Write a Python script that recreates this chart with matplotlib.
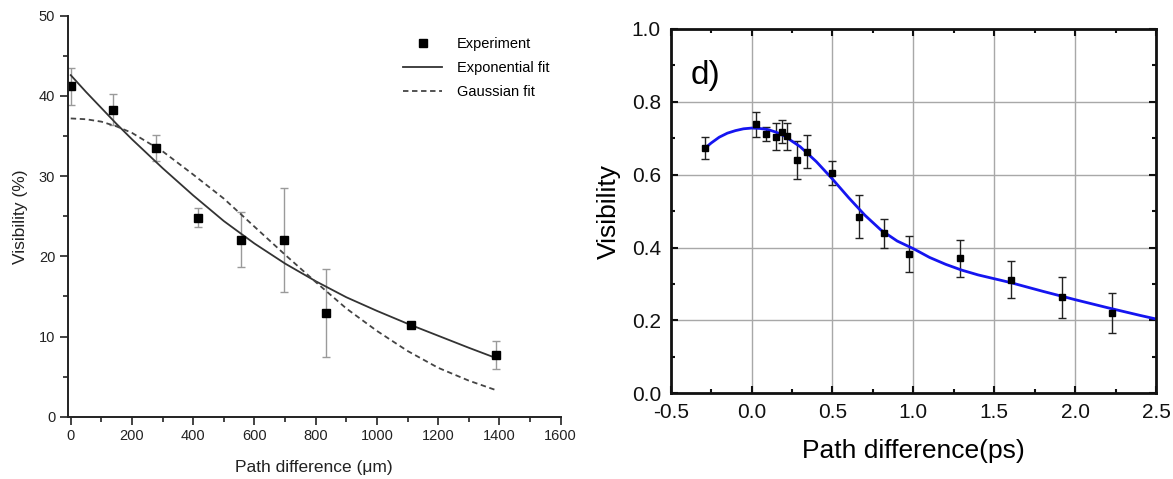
import numpy as np
import matplotlib
matplotlib.use("Agg")
import matplotlib.pyplot as plt
from matplotlib.ticker import MultipleLocator

plt.rcParams["font.family"] = ["Liberation Sans", "DejaVu Sans"]

# ----------------------------------
# Left panel data (path difference in um, visibility in %)
# ----------------------------------

exp_x = [0, 139, 278, 417, 556, 695, 834, 1112, 1390]
exp_y = [41.2, 38.3, 33.5, 24.8, 22.1, 22.0, 12.9, 11.4, 7.7]
exp_err = [2.3, 1.9, 1.6, 1.2, 3.4, 6.5, 5.5, 0.3, 1.8]

fit_x = [0, 50, 100, 150, 200, 300, 400, 500, 600, 700, 800, 900, 1000,
         1100, 1200, 1300, 1390]
expfit_y = [42.6, 40.5, 38.5, 36.5, 34.6, 31.0, 27.6, 24.4, 21.6, 19.1,
            16.9, 14.9, 13.2, 11.6, 10.1, 8.6, 7.3]
gaussfit_y = [37.2, 37.1, 36.8, 36.2, 35.4, 33.1, 30.2, 27.2, 23.7, 20.2,
              16.8, 13.5, 10.7, 8.2, 6.1, 4.5, 3.3]

# ----------------------------------
# Right panel data (path difference in ps)
# ----------------------------------

ps_x = [-0.29, 0.028, 0.089, 0.15, 0.19, 0.218, 0.279, 0.342, 0.498,
        0.662, 0.816, 0.975, 1.289, 1.604, 1.918, 2.231]
ps_y = [0.674, 0.738, 0.711, 0.704, 0.718, 0.706, 0.640, 0.663, 0.606,
        0.484, 0.439, 0.383, 0.371, 0.312, 0.264, 0.220]
ps_err = [0.030, 0.035, 0.019, 0.037, 0.032, 0.037, 0.052, 0.045, 0.033,
          0.059, 0.039, 0.049, 0.051, 0.050, 0.056, 0.055]

curve_x = [-0.29, -0.25, -0.2, -0.15, -0.1, -0.05, 0.0, 0.05, 0.1, 0.15,
           0.2, 0.3, 0.4, 0.5, 0.6, 0.7, 0.8, 0.9, 1.0, 1.1, 1.2, 1.3,
           1.4, 1.6, 1.8, 2.0, 2.2, 2.4, 2.5]
curve_y = [0.672, 0.687, 0.703, 0.714, 0.721, 0.726, 0.728, 0.727, 0.724,
           0.717, 0.707, 0.677, 0.636, 0.588, 0.537, 0.489, 0.448, 0.418,
           0.397, 0.373, 0.354, 0.338, 0.325, 0.304, 0.280, 0.257, 0.235,
           0.214, 0.204]

fig = plt.figure(figsize=(11.73, 4.79), dpi=100)

# ----------------------------------
# Left panel
# ----------------------------------

ax1 = fig.add_axes([0.0577, 0.130, 0.4203, 0.837])

ax1.errorbar(exp_x, exp_y, yerr=exp_err, fmt="none",
             ecolor="#9a9a9a", elinewidth=1, capsize=3, capthick=1)
ax1.plot(fit_x, expfit_y, color="#333333", lw=1.3, label="Exponential fit")
ax1.plot(fit_x, gaussfit_y, color="#444444", lw=1.3, ls=(0, (3, 2)),
         label="Gaussian fit")
ax1.plot(exp_x, exp_y, "s", color="black", ms=6, label="Experiment")

ax1.set_xlim(-10, 1600)
ax1.set_ylim(0, 50)
ax1.xaxis.set_major_locator(MultipleLocator(200))
ax1.xaxis.set_minor_locator(MultipleLocator(100))
ax1.yaxis.set_major_locator(MultipleLocator(10))
ax1.yaxis.set_minor_locator(MultipleLocator(5))

for side in ["top", "right"]:
    ax1.spines[side].set_visible(False)
for side in ["left", "bottom"]:
    ax1.spines[side].set_linewidth(1.4)
    ax1.spines[side].set_color("#222222")

ax1.tick_params(which="major", direction="out", length=6, width=1.2,
                labelsize=10.5, colors="#222222", pad=3)
ax1.tick_params(which="minor", direction="out", length=3.5, width=1.2,
                colors="#222222")

ax1.set_xlabel("Path difference (μm)", fontsize=12.5, color="#222222",
               labelpad=12)
ax1.set_ylabel("Visibility (%)", fontsize=12.5, color="#222222",
               labelpad=8)

handles, labels = ax1.get_legend_handles_labels()
order = [2, 0, 1]
ax1.legend([handles[i] for i in order], [labels[i] for i in order],
           loc="upper left", bbox_to_anchor=(403 / 1173, 1 - 37 / 479),
           bbox_transform=fig.transFigure, frameon=False, fontsize=10.5,
           handlelength=2.7, handletextpad=1.0, labelspacing=0.7,
           borderpad=0, borderaxespad=0)

# ----------------------------------
# Right panel
# ----------------------------------

ax2 = fig.add_axes([0.5718, 0.1789, 0.4137, 0.7606])

ax2.grid(True, which="major", color="#a8a8a8", lw=1)
ax2.set_axisbelow(True)

ax2.errorbar(ps_x, ps_y, yerr=ps_err, fmt="none",
             ecolor="#222222", elinewidth=1, capsize=3, capthick=1)
ax2.plot(curve_x, curve_y, color="#1515f0", lw=2)
ax2.plot(ps_x, ps_y, "s", color="black", ms=5)

ax2.set_xlim(-0.5, 2.5)
ax2.set_ylim(0, 1.0)
ax2.xaxis.set_major_locator(MultipleLocator(0.5))
ax2.xaxis.set_minor_locator(MultipleLocator(0.25))
ax2.yaxis.set_major_locator(MultipleLocator(0.2))
ax2.yaxis.set_minor_locator(MultipleLocator(0.1))

for side in ax2.spines:
    ax2.spines[side].set_linewidth(2)
    ax2.spines[side].set_color("#111111")

ax2.tick_params(which="both", direction="in", top=True, right=True,
                width=1.5, colors="#111111")
ax2.tick_params(which="major", length=5, labelsize=15, pad=7)
ax2.tick_params(which="minor", length=3)

ax2.xaxis.set_major_formatter(plt.FuncFormatter(lambda v, p: f"{v:.1f}"))
ax2.yaxis.set_major_formatter(plt.FuncFormatter(lambda v, p: f"{v:.1f}"))

ax2.set_xlabel("Path difference(ps)", fontsize=19, labelpad=12)
ax2.set_ylabel("Visibility", fontsize=19, labelpad=8)

ax2.text(0.04, 0.85, "d)", transform=ax2.transAxes, fontsize=24)

fig.savefig("out.png", dpi=100)
